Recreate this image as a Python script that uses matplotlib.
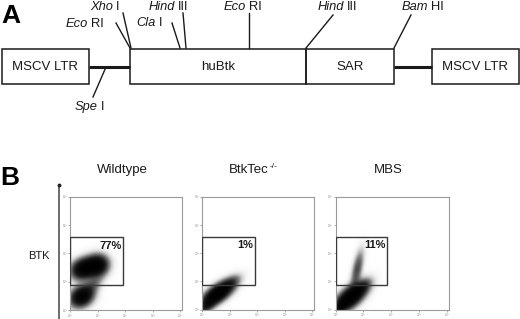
import numpy as np
import matplotlib
matplotlib.use("Agg")
import matplotlib.pyplot as plt
from matplotlib.patches import Rectangle

plt.rcParams['font.family'] = ['Liberation Sans', 'DejaVu Sans']
plt.rcParams['mathtext.fontset'] = 'custom'
plt.rcParams['mathtext.rm'] = 'Liberation Sans'
plt.rcParams['mathtext.it'] = 'Liberation Sans:italic'

W, H = 520, 319

# ---------------- Panel A data (schematic positions, pixel units) -------------
box_names = ["MSCV LTR", "huBtk", "SAR", "MSCV LTR"]
box_left = [2, 130, 306, 432]
box_right = [89, 306, 394, 519]
link_from = [89, 394]
link_to = [130, 432]

site_italic = ["Xho", "Eco", "Cla", "Hind", "Eco", "Hind", "Bam", "Spe"]
site_roman = ["I", "RI", "I", "III", "RI", "III", "HI", "I"]
site_x0 = [131, 130, 180, 186, 249, 306, 394, 106]
site_y0 = [48, 48, 48, 48, 48, 48, 48, 67]
site_x1 = [123, 116, 172, 183, 249, 333, 411, 93]
site_y1 = [13, 23, 23, 13, 13, 15, 15, 97]
label_split = [114.5, 89, 157, 176.5, 247.5, 345, 430, 99]
label_y = [7, 24, 23, 7, 7, 7, 7, 107]

# ---------------- Panel B data (log decades) ----------------
panel_titles = ["Wildtype", "BtkTec", "MBS"]
title_sup = ["", "-/-", ""]
gate_pct = ["77%", "1%", "11%"]
gate_x = [0.0, 0.0, 0.0]
gate_w = [1.94, 1.91, 1.86]
gate_y = [0.88, 0.88, 0.88]
gate_h = [1.69, 1.69, 1.69]
# clusters: (cx, cy, sigma_major, sigma_minor, angle_deg, weight)
clusters_wt = [(0.48, 1.44, 0.27, 0.21, 20, 1.8),
               (0.97, 1.56, 0.25, 0.22, 20, 1.8),
               (0.42, 0.47, 0.27, 0.21, 30, 1.7),
               (0.80, 0.85, 0.30, 0.16, 45, 0.4)]
clusters_ko = [(0.58, 0.58, 0.42, 0.17, 35, 2.2),
               (0.18, 0.12, 0.25, 0.12, 40, 0.6),
               (1.05, 0.95, 0.25, 0.12, 35, 0.3)]
clusters_mbs = [(0.52, 0.45, 0.42, 0.19, 40, 2.2),
                (0.76, 1.45, 0.42, 0.11, 78, 0.6),
                (0.15, 0.10, 0.22, 0.10, 40, 0.6),
                (0.95, 0.80, 0.22, 0.12, 40, 0.45)]
panel_clusters = [clusters_wt, clusters_ko, clusters_mbs]
decade_ticks = [0, 1, 2, 3, 4]
tick_labels = ["10$^0$", "10$^1$", "10$^2$", "10$^3$", "10$^4$"]
x_max = 4.08
y_max = 4.0

fig = plt.figure(figsize=(W / 100, H / 100), dpi=100)

# Overlay axes in pixel coordinates for schematic
ax0 = fig.add_axes([0, 0, 1, 1])
ax0.set_xlim(0, W)
ax0.set_ylim(H, 0)
ax0.axis('off')
ax0.patch.set_alpha(0)

ink = '#1a1a1a'
box_top, box_bot = 49, 84
for name, l, r in zip(box_names, box_left, box_right):
    ax0.add_patch(Rectangle((l, box_top), r - l, box_bot - box_top, fill=False,
                            edgecolor=ink, linewidth=1.1, zorder=3))
    ax0.text((l + r) / 2, (box_top + box_bot) / 2 + 0.5, name, ha='center', va='center',
             fontsize=9.5, color=ink)
for a, b in zip(link_from, link_to):
    ax0.plot([a, b], [66.5, 66.5], color=ink, linewidth=2.2, solid_capstyle='butt')

for it, ro, x0, y0, x1, y1, sp, ly in zip(site_italic, site_roman, site_x0, site_y0,
                                          site_x1, site_y1, label_split, label_y):
    ax0.plot([x0, x1], [y0, y1], color=ink, linewidth=1.0)
    ax0.text(sp - 1.5, ly, it, ha='right', va='center', fontsize=9.3, style='italic', color=ink)
    ax0.text(sp + 1.5, ly, ro, ha='left', va='center', fontsize=9.3, color=ink)

ax0.text(1, 23, "A", fontsize=19, fontweight='bold', ha='left', va='baseline', color='black')
ax0.text(0, 185, "B", fontsize=19, fontweight='bold', ha='left', va='baseline', color='black')
ax0.text(39, 256, "BTK", fontsize=8, ha='center', va='center', color=ink)
ax0.plot([59, 59], [185, H], color='#444444', linewidth=1.1)
ax0.plot([59], [185], marker='o', markersize=1.8, color='#222222')

# Panel B axes boxes in pixels (left, top, right, bottom)
boxes = [(70, 196.7, 182.3, 310), (202.3, 196.5, 314.3, 309.5), (335.7, 196.5, 449, 309.5)]
title_x = [122.5, 251, 388]

grid_x = np.linspace(0, x_max, 300)
grid_y = np.linspace(0, y_max, 300)
GX, GY = np.meshgrid(grid_x, grid_y)

for i, (l, t, r, b) in enumerate(boxes):
    ax = fig.add_axes([l / W, 1 - b / H, (r - l) / W, (b - t) / H])
    ax.set_xlim(0, x_max)
    ax.set_ylim(0, y_max)
    for s in ax.spines.values():
        s.set_color('#9a9a9a')
        s.set_linewidth(0.8)
    ax.set_xticks(decade_ticks)
    ax.set_yticks(decade_ticks)
    ax.set_xticklabels(tick_labels)
    ax.set_yticklabels(tick_labels)
    ax.tick_params(length=1.2, width=0.5, labelsize=2.0, colors='#888888', pad=0.4)

    dens = np.zeros_like(GX)
    for cx, cy, sa, sb, ang, w in panel_clusters[i]:
        th = np.deg2rad(ang)
        dx, dy = GX - cx, GY - cy
        u = dx * np.cos(th) + dy * np.sin(th)
        v = -dx * np.sin(th) + dy * np.cos(th)
        dens += w * np.exp(-0.5 * ((u / sa) ** 2 + (v / sb) ** 2))
    inten = 1 - np.exp(-2.5 * dens)
    ax.imshow(inten, extent=[0, x_max, 0, y_max], origin='lower', cmap='Greys',
              vmin=0, vmax=1, interpolation='bilinear', aspect='auto', zorder=1)

    ax.add_patch(Rectangle((gate_x[i], gate_y[i]), gate_w[i], gate_h[i], fill=False,
                           edgecolor='#3a3a3a', linewidth=1.0, zorder=3))
    ax.text(gate_x[i] + gate_w[i] - 0.06, gate_y[i] + gate_h[i] - 0.12, gate_pct[i],
            ha='right', va='top', fontsize=8, fontweight='bold', color=ink, zorder=4)
    if title_sup[i]:
        tt = ax0.text(title_x[i] - 22, 170, panel_titles[i], ha='left', va='center',
                      fontsize=9.5, color=ink)
        ax0.annotate(title_sup[i], xy=(1.0, 0.78), xycoords=tt, xytext=(0.4, 0),
                     textcoords='offset points', ha='left', va='center',
                     fontsize=6, color=ink)
    else:
        ax0.text(title_x[i], 170, panel_titles[i], ha='center', va='center', fontsize=9.5, color=ink)

fig.savefig("out.png", dpi=100)
